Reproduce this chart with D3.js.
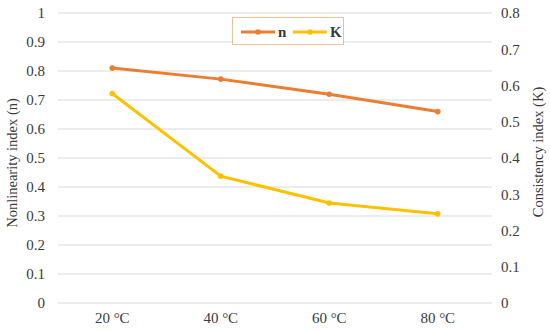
<!DOCTYPE html>
<html>
<head>
<meta charset="utf-8">
<script src="https://cdn.jsdelivr.net/npm/d3@7"></script>
<style>
  body { margin: 0; background: #fff; }
</style>
</head>
<body>
<svg id="chart" width="550" height="332"></svg>
<script>
const categories = ["20 °C", "40 °C", "60 °C", "80 °C"];
const nValues = [0.81, 0.772, 0.72, 0.66];
const kValues = [0.578, 0.35, 0.276, 0.246];
const leftTicks = [0, 0.1, 0.2, 0.3, 0.4, 0.5, 0.6, 0.7, 0.8, 0.9, 1];
const rightTicks = [0, 0.1, 0.2, 0.3, 0.4, 0.5, 0.6, 0.7, 0.8];

const serif = "'Liberation Serif', 'Times New Roman', 'DejaVu Serif', serif";
const textColor = "#3a3a3a";

const svg = d3.select("#chart");
const plot = { left: 58, right: 492, top: 13, bottom: 303 };

const xScale = d3.scaleBand()
    .domain(categories)
    .range([plot.left, plot.right]);

const yLeft = d3.scaleLinear().domain([0, 1]).range([plot.bottom, plot.top]);
const yRight = d3.scaleLinear().domain([0, 0.8]).range([plot.bottom, plot.top]);

// gridlines
svg.append("g")
    .selectAll("line")
    .data(leftTicks)
    .enter()
    .append("line")
    .attr("x1", plot.left)
    .attr("x2", plot.right)
    .attr("y1", d => yLeft(d))
    .attr("y2", d => yLeft(d))
    .attr("stroke", "#d9d9d9")
    .attr("stroke-width", 1);

function styleAxis(g) {
    g.select(".domain").remove();
    g.attr("font-family", serif).attr("font-size", 15);
    g.selectAll("text").attr("fill", textColor);
}

// left axis
svg.append("g")
    .attr("transform", `translate(${plot.left},0)`)
    .call(d3.axisLeft(yLeft).tickValues(leftTicks).tickSize(0).tickPadding(13).tickFormat(d3.format("")))
    .call(styleAxis);

// right axis
svg.append("g")
    .attr("transform", `translate(${plot.right},0)`)
    .call(d3.axisRight(yRight).tickValues(rightTicks).tickSize(0).tickPadding(9).tickFormat(d3.format("")))
    .call(styleAxis);

// bottom axis
svg.append("g")
    .attr("transform", `translate(0,${plot.bottom})`)
    .call(d3.axisBottom(xScale).tickSize(0).tickPadding(9))
    .call(styleAxis);

// axis titles
svg.append("text")
    .attr("transform", `translate(17,${(plot.top + plot.bottom) / 2 + 5}) rotate(-90)`)
    .attr("text-anchor", "middle")
    .attr("font-family", serif)
    .attr("font-size", 14.5)
    .attr("fill", textColor)
    .text("Nonlinearity index (n)");

svg.append("text")
    .attr("transform", `translate(543,${(plot.top + plot.bottom) / 2 - 6}) rotate(-90)`)
    .attr("text-anchor", "middle")
    .attr("font-family", serif)
    .attr("font-size", 14.5)
    .attr("fill", textColor)
    .text("Consistency index (K)");

const cx = d => xScale(d) + xScale.bandwidth() / 2;

const series = [
    { name: "n", values: nValues, y: yLeft, color: "#ED7D31" },
    { name: "K", values: kValues, y: yRight, color: "#FFC000" }
];

series.forEach(s => {
    const pts = categories.map((c, i) => [cx(c), s.y(s.values[i])]);
    svg.append("path")
        .attr("d", d3.line()(pts))
        .attr("fill", "none")
        .attr("stroke", s.color)
        .attr("stroke-width", 3)
        .attr("stroke-linejoin", "round");
    svg.append("g")
        .selectAll("circle")
        .data(pts)
        .enter()
        .append("circle")
        .attr("cx", d => d[0])
        .attr("cy", d => d[1])
        .attr("r", 2.8)
        .attr("fill", s.color);
});

// legend
const legend = svg.append("g");
legend.append("rect")
    .attr("x", 232.5)
    .attr("y", 17.5)
    .attr("width", 111)
    .attr("height", 27)
    .attr("fill", "#fff")
    .attr("stroke", "#ED7D31")
    .attr("stroke-width", 1)
    .attr("stroke-dasharray", "1,1");

series.forEach((s, i) => {
    const x0 = 241 + i * 52;
    legend.append("line")
        .attr("x1", x0)
        .attr("x2", x0 + 34)
        .attr("y1", 32)
        .attr("y2", 32)
        .attr("stroke", s.color)
        .attr("stroke-width", 3);
    legend.append("circle")
        .attr("cx", x0 + 17)
        .attr("cy", 32)
        .attr("r", 2.8)
        .attr("fill", s.color);
    legend.append("text")
        .attr("x", x0 + 37)
        .attr("y", 37)
        .attr("font-family", serif)
        .attr("font-size", 15)
        .attr("font-weight", "bold")
        .attr("fill", textColor)
        .text(s.name);
});
</script>
</body>
</html>
